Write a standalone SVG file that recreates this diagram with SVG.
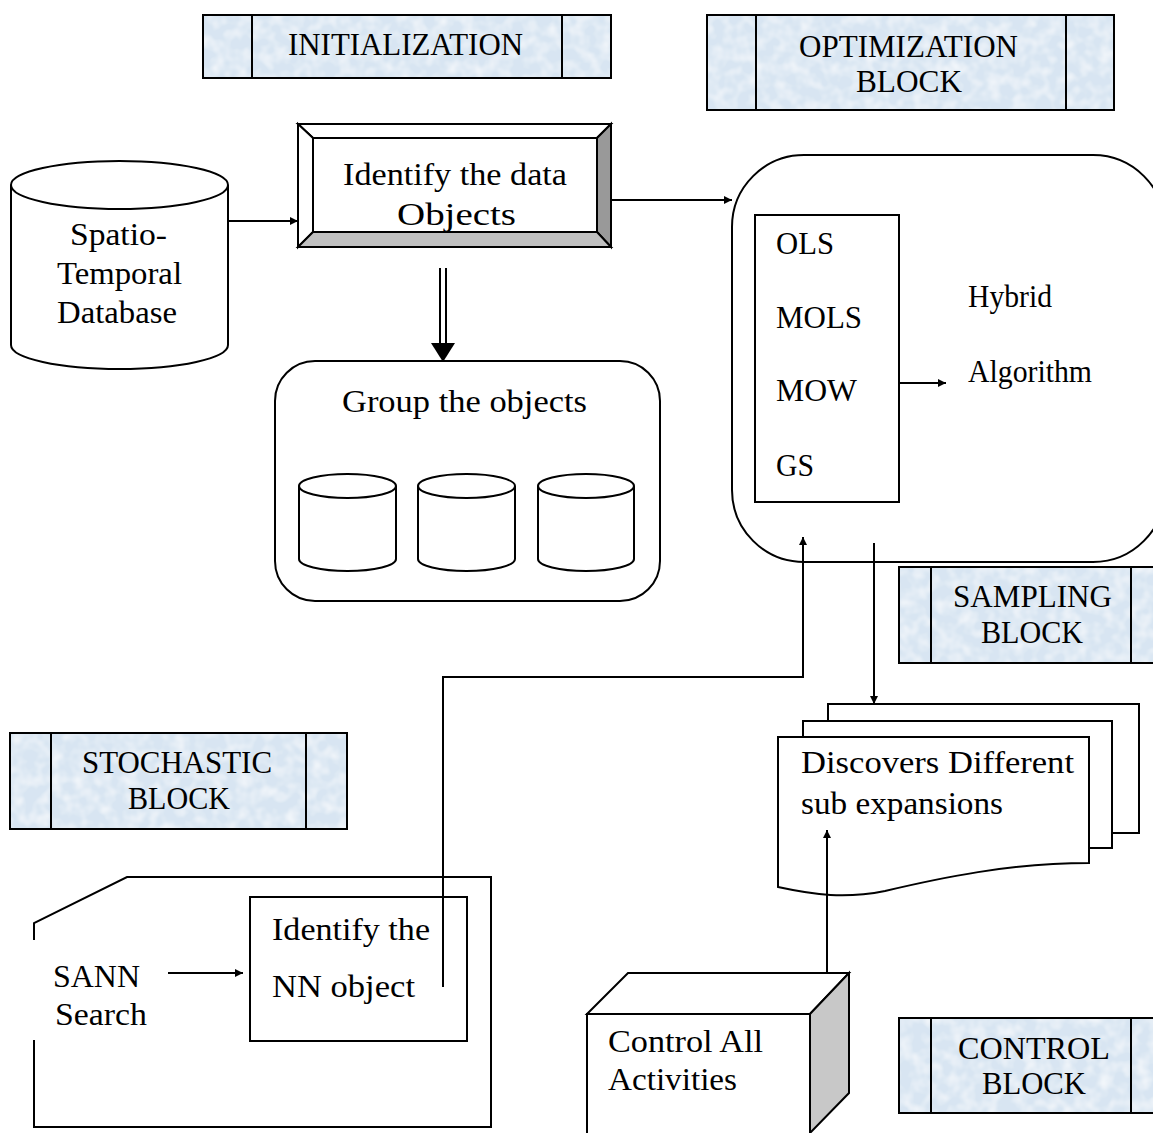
<svg xmlns="http://www.w3.org/2000/svg" width="1153" height="1133" viewBox="0 0 1153 1133">
<defs>
<style>
.s{fill:none;stroke:#000;stroke-width:2}
.w{fill:#fff;stroke:#000;stroke-width:2}
.ban{fill:#d8e5f2;stroke:none}
.bo{fill:none;stroke:#000;stroke-width:2}
.bl{stroke:#000;stroke-width:2}
text{font-family:"Liberation Serif","Times New Roman",serif;font-size:32px;fill:#000}
.c{stroke:#000;stroke-width:2;fill:none}
</style>
<filter id="tex" x="0" y="0" width="100%" height="100%">
<feTurbulence type="fractalNoise" baseFrequency="0.08" numOctaves="2" seed="3" result="n"/>
<feColorMatrix in="n" type="matrix" values="0 0 0 0 1  0 0 0 0 1  0 0 0 0 1  0 0 0 1.2 -0.45" result="w"/>
<feComposite in="w" in2="SourceGraphic" operator="in" result="wm"/>
<feMerge><feMergeNode in="SourceGraphic"/><feMergeNode in="wm"/></feMerge>
</filter>
<marker id="ah" viewBox="0 0 10 10" refX="10" refY="5" markerWidth="11" markerHeight="8" markerUnits="userSpaceOnUse" orient="auto">
<path d="M0,0 L10,5 L0,10 Z" fill="#000"/>
</marker>
</defs>
<rect width="1153" height="1133" fill="#fff"/>

<g id="banner-init">
<rect class="ban" x="203" y="15" width="408" height="63" filter="url(#tex)"/>
<rect class="bo" x="203" y="15" width="408" height="63"/>
<line class="bl" x1="252" y1="15" x2="252" y2="78"/>
<line class="bl" x1="562" y1="15" x2="562" y2="78"/>
<text x="288" y="55" textLength="235" lengthAdjust="spacingAndGlyphs">INITIALIZATION</text>
</g>

<g id="banner-opt">
<rect class="ban" x="707" y="15" width="407" height="95" filter="url(#tex)"/>
<rect class="bo" x="707" y="15" width="407" height="95"/>
<line class="bl" x1="756" y1="15" x2="756" y2="110"/>
<line class="bl" x1="1066" y1="15" x2="1066" y2="110"/>
<text x="799" y="57" textLength="219" lengthAdjust="spacingAndGlyphs">OPTIMIZATION</text>
<text x="856" y="92" textLength="106" lengthAdjust="spacingAndGlyphs">BLOCK</text>
</g>

<g id="banner-sampling">
<rect class="ban" x="899" y="567" width="270" height="96" filter="url(#tex)"/>
<rect class="bo" x="899" y="567" width="270" height="96"/>
<line class="bl" x1="931" y1="567" x2="931" y2="663"/>
<line class="bl" x1="1131" y1="567" x2="1131" y2="663"/>
<text x="953" y="607" textLength="159" lengthAdjust="spacingAndGlyphs">SAMPLING</text>
<text x="981" y="643" textLength="102" lengthAdjust="spacingAndGlyphs">BLOCK</text>
</g>

<g id="banner-stochastic">
<rect class="ban" x="10" y="733" width="337" height="96" filter="url(#tex)"/>
<rect class="bo" x="10" y="733" width="337" height="96"/>
<line class="bl" x1="51" y1="733" x2="51" y2="829"/>
<line class="bl" x1="306" y1="733" x2="306" y2="829"/>
<text x="82" y="773" textLength="190" lengthAdjust="spacingAndGlyphs">STOCHASTIC</text>
<text x="128" y="809" textLength="102" lengthAdjust="spacingAndGlyphs">BLOCK</text>
</g>

<g id="banner-control">
<rect class="ban" x="899" y="1018" width="270" height="95" filter="url(#tex)"/>
<rect class="bo" x="899" y="1018" width="270" height="95"/>
<line class="bl" x1="931" y1="1018" x2="931" y2="1113"/>
<line class="bl" x1="1131" y1="1018" x2="1131" y2="1113"/>
<text x="958" y="1059" textLength="152" lengthAdjust="spacingAndGlyphs">CONTROL</text>
<text x="982" y="1094" textLength="104" lengthAdjust="spacingAndGlyphs">BLOCK</text>
</g>

<g id="database">
<path class="w" d="M11,185 L11,345 A108.5,24 0 0 0 228,345 L228,185"/>
<ellipse class="w" cx="119.5" cy="185" rx="108.5" ry="24"/>
<text x="70" y="245" textLength="97" lengthAdjust="spacingAndGlyphs">Spatio-</text>
<text x="57" y="284" textLength="125" lengthAdjust="spacingAndGlyphs">Temporal</text>
<text x="57" y="323" textLength="120" lengthAdjust="spacingAndGlyphs">Database</text>
</g>

<g id="identify-data">
<polygon points="298,124 611,124 597,138 313,138" fill="#fff" stroke="#000" stroke-width="2"/>
<polygon points="298,124 313,138 313,232 298,247" fill="#fff" stroke="#000" stroke-width="2"/>
<polygon points="611,124 611,247 597,232 597,138" fill="#999" stroke="#000" stroke-width="2"/>
<text x="343" y="185" textLength="224" lengthAdjust="spacingAndGlyphs">Identify the data</text>
<text x="397" y="225" textLength="119" lengthAdjust="spacingAndGlyphs">Objects</text>
<polygon points="298,247 611,247 597,232 313,232" fill="#c0c0c0" stroke="#000" stroke-width="2"/>
</g>

<g id="group-objects">
<rect class="w" x="275" y="361" width="385" height="240" rx="40" ry="40"/>
<text x="342" y="412" textLength="245" lengthAdjust="spacingAndGlyphs">Group the objects</text>
<path class="w" d="M299,486 L299,559 A48.5,12 0 0 0 396,559 L396,486"/>
<ellipse class="w" cx="347.5" cy="486" rx="48.5" ry="12"/>
<path class="w" d="M418,486 L418,559 A48.5,12 0 0 0 515,559 L515,486"/>
<ellipse class="w" cx="466.5" cy="486" rx="48.5" ry="12"/>
<path class="w" d="M538,486 L538,559 A48,12 0 0 0 634,559 L634,486"/>
<ellipse class="w" cx="586" cy="486" rx="48" ry="12"/>
</g>

<g id="optimization">
<rect class="w" x="732" y="155" width="433" height="407" rx="72" ry="72"/>
<rect class="w" x="755" y="215" width="144" height="287"/>
<text x="776" y="254" textLength="58" lengthAdjust="spacingAndGlyphs">OLS</text>
<text x="776" y="328" textLength="86" lengthAdjust="spacingAndGlyphs">MOLS</text>
<text x="776" y="401" textLength="81" lengthAdjust="spacingAndGlyphs">MOW</text>
<text x="776" y="476" textLength="38" lengthAdjust="spacingAndGlyphs">GS</text>
<text x="968" y="307" textLength="84" lengthAdjust="spacingAndGlyphs">Hybrid</text>
<text x="968" y="382" textLength="124" lengthAdjust="spacingAndGlyphs">Algorithm</text>
</g>

<g id="discovers">
<path class="w" d="M828,721 L828,704 L1139,704 L1139,833 L1112,833"/>
<path class="w" d="M803,737 L803,721 L1112,721 L1112,848 L1089,848"/>
<path class="w" d="M778,737 H1089 V863 C1010,863 940,878 885,891 C845,899 815,895 778,887 Z"/>
<text x="801" y="773" textLength="273" lengthAdjust="spacingAndGlyphs">Discovers Different</text>
<text x="801" y="814" textLength="202" lengthAdjust="spacingAndGlyphs">sub expansions</text>
</g>

<g id="control">
<polygon points="587,1014 628,973 849,973 810,1014" fill="#fff" stroke="#000" stroke-width="2"/>
<polygon points="810,1014 849,973 849,1093 810,1133" fill="#c8c8c8" stroke="#000" stroke-width="2"/>
<rect class="w" x="587" y="1014" width="223" height="130"/>
<text x="608" y="1052" textLength="155" lengthAdjust="spacingAndGlyphs">Control All</text>
<text x="608" y="1090" textLength="129" lengthAdjust="spacingAndGlyphs">Activities</text>
</g>

<g id="sann">
<path class="s" d="M34,940 V923 L127,877 H491 V1127 H34 V1040"/>
<text x="53" y="987" textLength="87" lengthAdjust="spacingAndGlyphs">SANN</text>
<text x="55" y="1025" textLength="92" lengthAdjust="spacingAndGlyphs">Search</text>
</g>

<g id="identify-nn">
<rect class="w" x="250" y="897" width="217" height="144"/>
<text x="272" y="940" textLength="158" lengthAdjust="spacingAndGlyphs">Identify the</text>
<text x="272" y="997" textLength="143" lengthAdjust="spacingAndGlyphs">NN object</text>
</g>

<g id="connectors">
<line class="c" x1="228" y1="221" x2="298" y2="221" marker-end="url(#ah)"/>
<line class="c" x1="611" y1="200" x2="732" y2="200" marker-end="url(#ah)"/>
<line class="c" x1="440" y1="268" x2="440" y2="346"/>
<line class="c" x1="446" y1="268" x2="446" y2="346"/>
<polygon points="431,343 455,343 443,362" fill="#000"/>
<line class="c" x1="899" y1="383" x2="946" y2="383" marker-end="url(#ah)"/>
<polyline class="c" points="443,987 443,677 803,677 803,537" marker-end="url(#ah)"/>
<line class="c" x1="874" y1="543" x2="874" y2="704" marker-end="url(#ah)"/>
<line class="c" x1="827" y1="973" x2="827" y2="830" marker-end="url(#ah)"/>
<line class="c" x1="168" y1="973" x2="243" y2="973" marker-end="url(#ah)"/>
</g>
</svg>
